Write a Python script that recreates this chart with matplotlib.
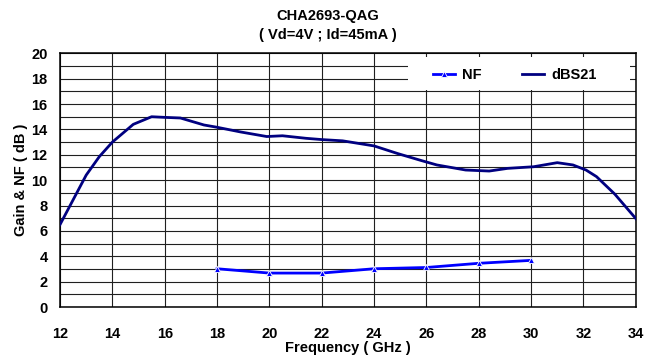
import numpy as np
from matplotlib import pyplot as plt
from matplotlib.patches import Rectangle

plt.rcParams['font.family'] = ['Liberation Sans', 'DejaVu Sans']
plt.rcParams['font.weight'] = 'bold'

# gain curve (dBS21)
freq_gain = [12.0, 12.5, 13.0, 13.5, 14.0, 14.8, 15.5, 16.0, 16.6, 17.5, 18.0,
             18.9, 19.9, 20.5, 21.4, 22.0, 22.8, 24.0, 24.9, 25.8, 26.4,
             27.5, 28.4, 29.1, 30.1, 31.0, 31.6, 32.1, 32.5, 33.2, 34.2]
gain = [6.5, 8.45, 10.4, 11.85, 13.0, 14.4, 15.0, 14.95, 14.9, 14.35, 14.17,
        13.8, 13.44, 13.5, 13.3, 13.2, 13.1, 12.7, 12.1, 11.55, 11.2,
        10.8, 10.72, 10.93, 11.06, 11.38, 11.2, 10.8, 10.28, 8.9, 6.5]

# noise figure
freq_nf = [18, 20, 22, 24, 26, 28, 30]
nf = [3.02, 2.68, 2.68, 3.02, 3.12, 3.45, 3.68]

xticks = np.arange(12, 35, 2)
yticks = np.arange(0, 21, 2)

fig = plt.figure(figsize=(6.61, 3.6), dpi=100)
ax = fig.add_axes([0.0908, 0.147, 0.871, 0.705])

ax.plot(freq_nf, nf, color='#0000ff', lw=2, marker='^', ms=5,
        mec='white', mew=0.6, label='NF', zorder=3)
ax.plot(freq_gain, gain, color='#000080', lw=2, label='dBS21', zorder=3)

ax.set_xlim(12, 34)
ax.set_ylim(0, 20)
ax.set_xticks(xticks)
ax.set_yticks(yticks)
ax.set_yticks(np.arange(1, 20, 2), minor=True)
ax.grid(True, which='both', color='#202020', lw=0.8)
ax.tick_params(length=0, labelsize=10.5, which='both')
ax.tick_params(axis='x', pad=14)
ax.tick_params(axis='y', pad=9)
for lab in ax.get_xticklabels() + ax.get_yticklabels():
    lab.set_fontweight('bold')
for s in ax.spines.values():
    s.set_linewidth(1.1)

ax.set_xlabel('Frequency ( GHz )', fontsize=10.5, fontweight='bold', labelpad=0)
ax.set_ylabel('Gain & NF ( dB )', fontsize=10.5, fontweight='bold', labelpad=2)
fig.text(0.496, 0.955, 'CHA2693-QAG', ha='center', va='center',
         fontsize=10.5, fontweight='bold')
fig.text(0.496, 0.903, '( Vd=4V ; Id=45mA )', ha='center', va='center',
         fontsize=10.5, fontweight='bold')

# white box behind the legend
ax.add_patch(Rectangle((0.604, 0.854), 0.386, 0.13, transform=ax.transAxes,
                       facecolor='white', edgecolor='none', zorder=2.5))
leg = ax.legend(loc='center', bbox_to_anchor=(0.79, 0.913), ncol=2,
                frameon=False, fontsize=10.5, handlelength=1.5,
                columnspacing=2.8, handletextpad=0.5)
leg.set_zorder(4)
for t in leg.get_texts():
    t.set_fontweight('bold')

plt.savefig('out.png', dpi=100)
